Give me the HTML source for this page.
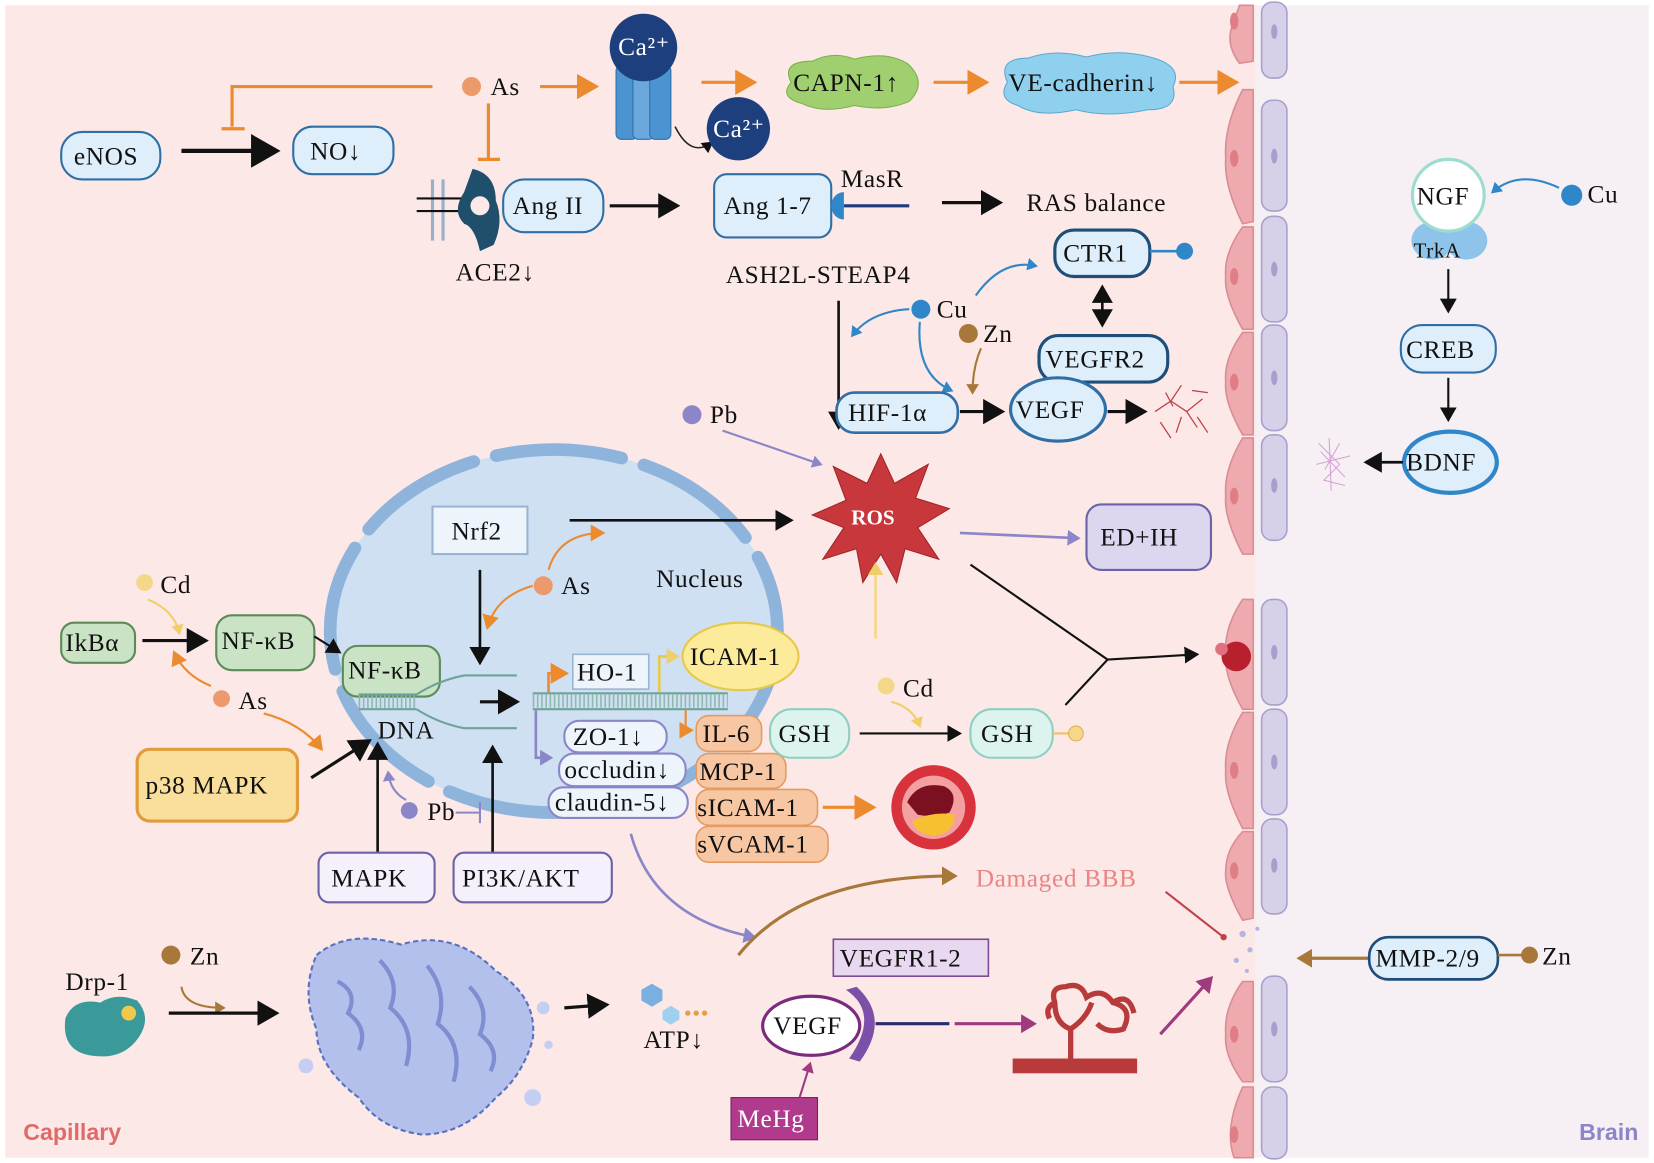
<!DOCTYPE html>
<html><head><meta charset="utf-8"><style>
html,body{margin:0;padding:0;background:#fff;}
svg{display:block;}
text{font-family:"Liberation Serif",serif;font-size:24px;letter-spacing:0.6px;fill:#111;}
</style></head><body>
<svg width="1654" height="1163" viewBox="0 0 1568 1102" preserveAspectRatio="none" xmlns="http://www.w3.org/2000/svg">
<defs>
<marker id="ab" markerWidth="8" markerHeight="8" refX="6" refY="4" orient="auto-start-reverse" markerUnits="strokeWidth"><path d="M0,0 L7,4 L0,8 z" fill="#111"/></marker>
<marker id="ao" markerWidth="8" markerHeight="8" refX="6" refY="4" orient="auto" markerUnits="strokeWidth"><path d="M0,0 L7,4 L0,8 z" fill="#ec8a2e"/></marker>
<marker id="ap" markerWidth="6" markerHeight="6" refX="4" refY="3" orient="auto" markerUnits="strokeWidth"><path d="M0,0 L5,3 L0,6 z" fill="#8a86c8"/></marker>
<marker id="abl" markerWidth="6" markerHeight="6" refX="4" refY="3" orient="auto" markerUnits="strokeWidth"><path d="M0,0 L5,3 L0,6 z" fill="#2f86c9"/></marker>
<marker id="abr" markerWidth="6" markerHeight="6" refX="4" refY="3" orient="auto" markerUnits="strokeWidth"><path d="M0,0 L5,3 L0,6 z" fill="#a8783a"/></marker>
<marker id="ay" markerWidth="6" markerHeight="6" refX="4" refY="3" orient="auto" markerUnits="strokeWidth"><path d="M0,0 L5,3 L0,6 z" fill="#f0cf6a"/></marker>
<marker id="am" markerWidth="6" markerHeight="6" refX="4" refY="3" orient="auto" markerUnits="strokeWidth"><path d="M0,0 L5,3 L0,6 z" fill="#a03a7e"/></marker>
</defs>
<rect x="0" y="0" width="1568" height="1102" fill="#fff"/>
<rect x="5" y="5" width="1188" height="1092" fill="#fce8e6"/>
<rect x="1190" y="5" width="373" height="1092" fill="#f6f0f5"/>

<g stroke="#d98c94" stroke-width="1.5" fill="#eeaaaf">
<path d="M1175,5 L1188,5 L1188,58 L1175,60 Q1160,40 1170,20 Z"/>
<path d="M1178,85 L1188,85 L1188,210 L1178,212 Q1160,175 1162,150 Q1160,120 1178,85 Z"/>
<path d="M1178,215 L1188,215 L1188,312 L1178,312 Q1160,280 1162,262 Q1160,240 1178,215 Z"/>
<path d="M1178,315 L1188,315 L1188,412 L1178,412 Q1160,380 1162,362 Q1160,340 1178,315 Z"/>
<path d="M1178,415 L1188,415 L1188,525 L1178,525 Q1160,490 1162,470 Q1160,445 1178,415 Z"/>
<path d="M1178,568 L1188,568 L1188,672 L1178,672 Q1160,640 1162,620 Q1160,595 1178,568 Z"/>
<path d="M1178,675 L1188,675 L1188,785 L1178,785 Q1160,750 1162,730 Q1160,705 1178,675 Z"/>
<path d="M1178,788 L1188,788 L1188,870 L1178,872 Q1160,840 1162,825 Q1162,805 1178,788 Z"/>
<path d="M1178,930 L1188,930 L1188,1025 L1178,1025 Q1160,1000 1162,980 Q1160,955 1178,930 Z"/>
<path d="M1178,1030 L1188,1030 L1188,1097 L1170,1097 Q1160,1070 1178,1030 Z"/>
</g>
<g fill="#e07e85"><ellipse cx="1170" cy="20" rx="4" ry="8"/><ellipse cx="1170" cy="150" rx="4" ry="8"/><ellipse cx="1170" cy="262" rx="4" ry="8"/><ellipse cx="1170" cy="362" rx="4" ry="8"/><ellipse cx="1170" cy="470" rx="4" ry="8"/><ellipse cx="1170" cy="730" rx="4" ry="8"/><ellipse cx="1170" cy="825" rx="4" ry="8"/><ellipse cx="1170" cy="980" rx="4" ry="8"/><ellipse cx="1170" cy="1075" rx="4" ry="8"/></g>
<g stroke="#a8a0cc" stroke-width="1.5" fill="#d6d0e8">
<rect x="1196" y="2" width="24" height="72" rx="10"/>
<rect x="1196" y="95" width="24" height="105" rx="10"/>
<rect x="1196" y="205" width="24" height="100" rx="10"/>
<rect x="1196" y="308" width="24" height="100" rx="10"/>
<rect x="1196" y="412" width="24" height="100" rx="10"/>
<rect x="1196" y="568" width="24" height="100" rx="10"/>
<rect x="1196" y="672" width="24" height="100" rx="10"/>
<rect x="1196" y="776" width="24" height="90" rx="10"/>
<rect x="1196" y="925" width="24" height="100" rx="10"/>
<rect x="1196" y="1030" width="24" height="68" rx="10"/>
</g>
<g fill="#a8a0cc"><ellipse cx="1208" cy="30" rx="3" ry="7"/><ellipse cx="1208" cy="148" rx="3" ry="7"/><ellipse cx="1208" cy="255" rx="3" ry="7"/><ellipse cx="1208" cy="358" rx="3" ry="7"/><ellipse cx="1208" cy="460" rx="3" ry="7"/><ellipse cx="1208" cy="618" rx="3" ry="7"/><ellipse cx="1208" cy="722" rx="3" ry="7"/><ellipse cx="1208" cy="820" rx="3" ry="7"/><ellipse cx="1208" cy="975" rx="3" ry="7"/></g>
<g fill="#9fa9de" opacity=".8"><circle cx="1178" cy="885" r="3"/><circle cx="1185" cy="900" r="2.5"/><circle cx="1172" cy="910" r="2.5"/><circle cx="1192" cy="880" r="2"/><circle cx="1182" cy="920" r="2"/></g>

<path d="M410,82 L220,82 L220,120" fill="none" stroke="#ec8a2e" stroke-width="3"/>
<line x1="210" y1="122" x2="232" y2="122" stroke="#ec8a2e" stroke-width="3"/>
<circle cx="447" cy="82" r="9" fill="#ec9a6b"/><text x="465" y="90">As</text>
<line x1="463" y1="98" x2="463" y2="150" stroke="#ec8a2e" stroke-width="3"/>
<line x1="453" y1="151" x2="474" y2="151" stroke="#ec8a2e" stroke-width="3"/>
<line x1="512" y1="82" x2="565" y2="82" stroke="#ec8a2e" stroke-width="3" marker-end="url(#ao)"/>
<rect x="584" y="62" width="20" height="70" rx="5" fill="#4b93d1" stroke="#2e6ea8"/>
<rect x="600" y="62" width="20" height="70" rx="5" fill="#6aa7dc" stroke="#2e6ea8"/>
<rect x="616" y="62" width="20" height="70" rx="5" fill="#4b93d1" stroke="#2e6ea8"/>
<circle cx="610" cy="45" r="32" fill="#1e3f7e"/><text x="586" y="52" style="fill:#fff">Ca²⁺</text>
<path d="M640,120 Q655,150 675,135" fill="none" stroke="#222" stroke-width="1.5" marker-end="url(#ab)"/>
<circle cx="700" cy="122" r="30" fill="#1e3f7e"/><text x="676" y="130" style="fill:#fff">Ca²⁺</text>
<line x1="665" y1="78" x2="715" y2="78" stroke="#ec8a2e" stroke-width="3" marker-end="url(#ao)"/>
<path d="M750,78 Q740,58 770,58 Q790,48 810,56 Q840,48 860,60 Q880,78 862,96 Q840,106 810,100 Q780,108 760,98 Q738,92 750,78 Z" fill="#9fcf6e" stroke="#7bb04a"/>
<text x="752" y="86">CAPN-1↑</text>
<line x1="885" y1="78" x2="935" y2="78" stroke="#ec8a2e" stroke-width="3" marker-end="url(#ao)"/>
<path d="M955,78 Q945,55 975,55 Q1000,46 1030,54 Q1060,46 1090,54 Q1122,62 1112,82 Q1118,104 1088,104 Q1050,112 1020,104 Q985,112 965,100 Q945,94 955,78 Z" fill="#8fd0ee" stroke="#5aa8d2"/>
<text x="956" y="86">VE-cadherin↓</text>
<line x1="1118" y1="78" x2="1172" y2="78" stroke="#ec8a2e" stroke-width="3" marker-end="url(#ao)"/>

<rect x="58" y="125" width="94" height="45" rx="20" fill="#deeefa" stroke="#2f6fa6" stroke-width="2"/><text x="70" y="156">eNOS</text>
<line x1="172" y1="143" x2="262" y2="143" stroke="#111" stroke-width="4" marker-end="url(#ab)"/>
<rect x="278" y="120" width="95" height="45" rx="18" fill="#deeefa" stroke="#2f6fa6" stroke-width="2"/><text x="294" y="151">NO↓</text>

<g stroke="#9ab0c8" stroke-width="3"><line x1="410" y1="170" x2="410" y2="228"/><line x1="420" y1="170" x2="420" y2="228"/></g>
<line x1="395" y1="188" x2="440" y2="188" stroke="#111" stroke-width="2"/><line x1="395" y1="200" x2="440" y2="200" stroke="#111" stroke-width="2"/>
<path d="M448,160 Q470,165 470,190 Q478,210 468,232 L455,238 Q450,215 440,212 Q428,200 440,182 Z" fill="#1f4f6a"/>
<circle cx="455" cy="195" r="9" fill="#fce8e6"/>
<text x="432" y="266">ACE2↓</text>
<rect x="477" y="170" width="95" height="50" rx="20" fill="#deeefa" stroke="#2f6fa6" stroke-width="2"/><text x="486" y="203">Ang II</text>
<line x1="578" y1="195" x2="642" y2="195" stroke="#111" stroke-width="3" marker-end="url(#ab)"/>
<rect x="677" y="165" width="111" height="60" rx="12" fill="#deeefa" stroke="#2f6fa6" stroke-width="2"/><text x="686" y="203">Ang 1-7</text>
<path d="M800,182 A12,13 0 0,0 800,208 Z" fill="#2f86c9"/>
<line x1="800" y1="195" x2="862" y2="195" stroke="#1e3a7e" stroke-width="3"/>
<text x="797" y="177">MasR</text>
<line x1="893" y1="192" x2="948" y2="192" stroke="#111" stroke-width="3" marker-end="url(#ab)"/>
<text x="973" y="200">RAS balance</text>

<text x="688" y="268">ASH2L-STEAP4</text>
<line x1="795" y1="285" x2="795" y2="405" stroke="#111" stroke-width="2.5" marker-end="url(#ab)"/>
<circle cx="873" cy="293" r="9" fill="#2f86c9"/><text x="888" y="301">Cu</text>
<path d="M862,293 Q825,295 808,318" fill="none" stroke="#2f86c9" stroke-width="2" marker-end="url(#abl)"/>
<path d="M925,280 Q950,245 982,252" fill="none" stroke="#2f86c9" stroke-width="2" marker-end="url(#abl)"/>
<path d="M872,305 Q868,355 902,370" fill="none" stroke="#2f86c9" stroke-width="2" marker-end="url(#abl)"/>
<circle cx="918" cy="316" r="9" fill="#a8783a"/><text x="932" y="324">Zn</text>
<path d="M930,330 Q922,348 922,372" fill="none" stroke="#a8783a" stroke-width="2" marker-end="url(#abr)"/>
<rect x="1000" y="218" width="90" height="44" rx="18" fill="#deeefa" stroke="#1f4e79" stroke-width="3"/><text x="1008" y="248">CTR1</text>
<line x1="1090" y1="238" x2="1118" y2="238" stroke="#2f86c9" stroke-width="2.5"/><circle cx="1123" cy="238" r="8" fill="#2f86c9"/>
<line x1="1045" y1="272" x2="1045" y2="308" stroke="#111" stroke-width="2.5" marker-end="url(#ab)" marker-start="url(#ab)"/>
<rect x="985" y="318" width="122" height="44" rx="18" fill="#deeefa" stroke="#1f4e79" stroke-width="3"/><text x="991" y="348">VEGFR2</text>
<rect x="793" y="372" width="115" height="38" rx="17" fill="#deeefa" stroke="#2f6fa6" stroke-width="2.5"/><text x="804" y="399">HIF-1α</text>
<line x1="910" y1="390" x2="950" y2="390" stroke="#111" stroke-width="3" marker-end="url(#ab)"/>
<ellipse cx="1003" cy="388" rx="45" ry="30" fill="#deeefa" stroke="#2f6fa6" stroke-width="3"/><text x="963" y="396">VEGF</text>
<line x1="1050" y1="390" x2="1085" y2="390" stroke="#111" stroke-width="3" marker-end="url(#ab)"/>
<g fill="none" stroke="#c0404a" stroke-width="1.2"><path d="M1095,390 L1110,380 L1120,365 M1110,380 L1125,390 L1140,378 M1120,395 L1115,410 M1125,390 L1135,405 M1100,400 L1110,415 M1130,370 L1145,372 M1105,372 L1112,385 M1135,395 L1145,410"/></g>

<circle cx="656" cy="393" r="9" fill="#8a86c8"/><text x="673" y="401">Pb</text>
<line x1="685" y1="408" x2="778" y2="440" stroke="#8a86c8" stroke-width="2" marker-end="url(#ap)"/>
<polygon points="835,430 848,458 880,440 868,472 900,482 870,500 890,530 858,520 850,552 835,525 818,552 812,520 780,530 800,500 770,488 802,474 790,442 822,458" fill="#c8373b" stroke="#a02428"/>
<text x="807" y="497" style="fill:#fff;font-weight:bold;font-size:20px;letter-spacing:0">ROS</text>
<line x1="910" y1="505" x2="1022" y2="510" stroke="#8a86c8" stroke-width="2.5" marker-end="url(#ap)"/>
<rect x="1030" y="478" width="118" height="62" rx="14" fill="#dcd6ef" stroke="#6a63a8" stroke-width="2"/><text x="1043" y="517">ED+IH</text>
<path d="M920,535 L1050,625 L1010,668" fill="none" stroke="#111" stroke-width="2"/>
<line x1="1050" y1="625" x2="1135" y2="620" stroke="#111" stroke-width="2" marker-end="url(#ab)"/>
<circle cx="1172" cy="622" r="14" fill="#b8202e"/><circle cx="1158" cy="615" r="6" fill="#e07080"/>

<ellipse cx="525" cy="598" rx="212" ry="172" fill="#cfe0f2"/>
<ellipse cx="525" cy="598" rx="212" ry="172" fill="none" stroke="#8fb4dc" stroke-width="12" stroke-dasharray="120 22" stroke-linecap="round"/>
<text x="622" y="556">Nucleus</text>
<rect x="410" y="480" width="90" height="45" fill="#eef4fb" stroke="#9ab4d4" stroke-width="2"/><text x="428" y="511">Nrf2</text>
<line x1="540" y1="493" x2="750" y2="493" stroke="#111" stroke-width="2.5" marker-end="url(#ab)"/>
<circle cx="515" cy="555" r="9" fill="#ec9a6b"/><text x="532" y="563">As</text>
<path d="M520,540 Q530,505 572,505" fill="none" stroke="#ec8a2e" stroke-width="2" marker-end="url(#ao)"/>
<path d="M505,555 Q470,565 462,595" fill="none" stroke="#ec8a2e" stroke-width="2" marker-end="url(#ao)"/>
<line x1="455" y1="540" x2="455" y2="628" stroke="#111" stroke-width="2.5" marker-end="url(#ab)"/>

<circle cx="137" cy="552" r="8" fill="#f5d78a"/><text x="152" y="562">Cd</text>
<path d="M140,568 Q165,578 170,600" fill="none" stroke="#f0cf6a" stroke-width="2" marker-end="url(#ay)"/>
<rect x="58" y="590" width="70" height="38" rx="12" fill="#c9e3c4" stroke="#5c8a59" stroke-width="2"/><text x="62" y="617">IkBα</text>
<line x1="135" y1="607" x2="195" y2="607" stroke="#111" stroke-width="3" marker-end="url(#ab)"/>
<rect x="205" y="583" width="93" height="52" rx="15" fill="#c9e3c4" stroke="#5c8a59" stroke-width="2"/><text x="210" y="615">NF-κB</text>
<line x1="298" y1="603" x2="322" y2="618" stroke="#111" stroke-width="2" marker-end="url(#ab)"/>
<rect x="325" y="612" width="92" height="48" rx="14" fill="#c9e3c4" stroke="#5c8a59" stroke-width="2"/><text x="330" y="643">NF-κB</text>
<circle cx="210" cy="662" r="8" fill="#ec9a6b"/><text x="226" y="672">As</text>
<path d="M200,650 Q175,640 165,618" fill="none" stroke="#ec8a2e" stroke-width="2" marker-end="url(#ao)"/>
<path d="M250,676 Q285,685 305,710" fill="none" stroke="#ec8a2e" stroke-width="2" marker-end="url(#ao)"/>
<g stroke="#6fa39a" stroke-width="2" fill="none">
<line x1="340" y1="658" x2="395" y2="658"/><line x1="340" y1="672" x2="395" y2="672"/>
<path d="M395,658 Q415,645 440,640 L490,640"/><path d="M395,672 Q415,685 440,690 L490,690"/>
</g>
<line x1="340" y1="665" x2="395" y2="665" stroke="#8fb8af" stroke-width="12" stroke-dasharray="1.5 2.5"/>
<text x="358" y="700">DNA</text>
<rect x="130" y="710" width="152" height="68" rx="12" fill="#f9df9b" stroke="#e29b3a" stroke-width="3"/><text x="138" y="752">p38 MAPK</text>
<line x1="295" y1="737" x2="350" y2="702" stroke="#111" stroke-width="3" marker-end="url(#ab)"/>
<line x1="358" y1="808" x2="358" y2="705" stroke="#111" stroke-width="2.5" marker-end="url(#ab)"/>
<line x1="467" y1="808" x2="467" y2="708" stroke="#111" stroke-width="2.5" marker-end="url(#ab)"/>
<circle cx="388" cy="768" r="8" fill="#8a86c8"/><text x="405" y="777">Pb</text>
<path d="M385,758 Q370,750 368,732" fill="none" stroke="#8a86c8" stroke-width="2" marker-end="url(#ap)"/>
<line x1="432" y1="770" x2="455" y2="770" stroke="#8a86c8" stroke-width="2"/><line x1="455" y1="760" x2="455" y2="780" stroke="#8a86c8" stroke-width="2"/>
<rect x="302" y="808" width="110" height="47" rx="10" fill="#f5f0fb" stroke="#6a63a8" stroke-width="2"/><text x="314" y="840">MAPK</text>
<rect x="430" y="808" width="150" height="47" rx="10" fill="#f5f0fb" stroke="#6a63a8" stroke-width="2"/><text x="438" y="840">PI3K/AKT</text>

<line x1="455" y1="665" x2="490" y2="665" stroke="#111" stroke-width="3" marker-end="url(#ab)"/>
<g stroke="#6fa39a" stroke-width="2"><line x1="505" y1="657" x2="690" y2="657"/><line x1="505" y1="672" x2="690" y2="672"/></g>
<line x1="505" y1="664" x2="690" y2="664" stroke="#8fb8af" stroke-width="13" stroke-dasharray="1.5 2.5"/>
<path d="M520,656 L520,638 L537,638" fill="none" stroke="#ec8a2e" stroke-width="2.5" marker-end="url(#ao)"/>
<rect x="543" y="620" width="72" height="33" fill="#eef4fb" stroke="#9ab4d4" stroke-width="1.5"/><text x="547" y="645">HO-1</text>
<path d="M625,656 L625,622 L642,622" fill="none" stroke="#e6c84a" stroke-width="2.5" marker-end="url(#ay)"/>
<ellipse cx="702" cy="622" rx="55" ry="32" fill="#fbeb9b" stroke="#e6c84a" stroke-width="2"/><text x="654" y="630">ICAM-1</text>
<path d="M508,673 L508,718 L522,718" fill="none" stroke="#8a86c8" stroke-width="2.5" marker-end="url(#ap)"/>
<path d="M650,673 L650,692 L656,692" fill="none" stroke="#ec8a2e" stroke-width="2" marker-end="url(#ao)"/>
<g fill="#eef4fb" stroke="#8a86c8" stroke-width="2">
<rect x="535" y="683" width="97" height="30" rx="14"/>
<rect x="530" y="714" width="120" height="31" rx="14"/>
<rect x="520" y="746" width="132" height="29" rx="14"/>
</g>
<text x="543" y="706">ZO-1↓</text><text x="535" y="737">occludin↓</text><text x="526" y="768">claudin-5↓</text>
<g fill="#f6c7a2" stroke="#e59a63" stroke-width="1.5">
<rect x="660" y="678" width="62" height="34" rx="12"/>
<rect x="660" y="714" width="85" height="33" rx="12"/>
<rect x="660" y="748" width="115" height="34" rx="12"/>
<rect x="660" y="783" width="125" height="34" rx="12"/>
</g>
<text x="666" y="703">IL-6</text><text x="663" y="739">MCP-1</text><text x="661" y="773">sICAM-1</text><text x="661" y="808">sVCAM-1</text>
<rect x="730" y="672" width="75" height="46" rx="20" fill="#dcf3ee" stroke="#8fcfc2" stroke-width="2"/><text x="738" y="703">GSH</text>
<line x1="815" y1="695" x2="910" y2="695" stroke="#111" stroke-width="2" marker-end="url(#ab)"/>
<rect x="920" y="672" width="78" height="46" rx="20" fill="#dcf3ee" stroke="#8fcfc2" stroke-width="2"/><text x="930" y="703">GSH</text>
<line x1="998" y1="695" x2="1014" y2="695" stroke="#f0c060" stroke-width="2"/><circle cx="1020" cy="695" r="7" fill="#f5d78a" stroke="#e0b050"/>
<circle cx="840" cy="650" r="8" fill="#f5d78a"/><text x="856" y="660">Cd</text>
<path d="M845,665 Q865,670 872,688" fill="none" stroke="#f0cf6a" stroke-width="2" marker-end="url(#ay)"/>
<line x1="830" y1="605" x2="830" y2="535" stroke="#f5d78a" stroke-width="2.5" marker-end="url(#ay)"/>
<line x1="780" y1="765" x2="828" y2="765" stroke="#ec8a2e" stroke-width="3" marker-end="url(#ao)"/>
<circle cx="885" cy="765" r="40" fill="#d8323c"/><circle cx="885" cy="765" r="30" fill="#f5a0a0"/>
<path d="M860,760 Q870,740 895,745 Q910,752 900,770 Q885,775 870,772 Z" fill="#7a1020"/>
<path d="M865,778 Q885,768 905,772 Q905,790 885,792 Q868,790 865,778 Z" fill="#f7c030"/>

<path d="M598,790 Q620,870 715,888" fill="none" stroke="#8a86c8" stroke-width="2.5" marker-end="url(#ap)"/>
<text x="925" y="840" style="fill:#e98585">Damaged BBB</text>
<path d="M700,905 Q760,830 905,830" fill="none" stroke="#a8783a" stroke-width="3" marker-end="url(#abr)"/>
<line x1="1105" y1="845" x2="1160" y2="888" stroke="#c0404a" stroke-width="2"/><circle cx="1160" cy="888" r="3" fill="#c0404a"/>
<line x1="1298" y1="908" x2="1232" y2="908" stroke="#a8783a" stroke-width="3" marker-end="url(#abr)"/>
<rect x="1298" y="888" width="122" height="40" rx="18" fill="#deeefa" stroke="#1f4e79" stroke-width="2.5"/><text x="1304" y="916">MMP-2/9</text>
<line x1="1420" y1="905" x2="1445" y2="905" stroke="#a8783a" stroke-width="2.5"/><circle cx="1450" cy="905" r="8" fill="#a8783a"/><text x="1462" y="914">Zn</text>

<rect x="790" y="890" width="147" height="35" fill="#e8d8f0" stroke="#7a4a90" stroke-width="1.5"/><text x="796" y="916">VEGFR1-2</text>
<ellipse cx="769" cy="972" rx="46" ry="28" fill="#fff" stroke="#7b2a7e" stroke-width="3"/><text x="733" y="980">VEGF</text>
<path d="M802,938 Q835,960 805,1003 L815,1006 Q845,965 812,935 Z" fill="#7b50a8"/>
<line x1="830" y1="970" x2="900" y2="970" stroke="#2a2a6a" stroke-width="3"/>
<line x1="905" y1="970" x2="980" y2="970" stroke="#a03a7e" stroke-width="3" marker-end="url(#am)"/>
<rect x="960" y="1003" width="118" height="14" fill="#b83a3a"/>
<g fill="none" stroke="#b83a3a" stroke-width="5"><path d="M1015,1003 L1015,975 Q1000,970 1000,950 Q995,935 1010,935 Q1025,930 1030,945 Q1045,935 1055,950 Q1075,955 1065,975 Q1050,980 1040,970 M1015,975 Q1030,965 1035,950 M1000,950 Q990,955 995,965 M1055,950 Q1070,940 1075,960"/></g>
<line x1="1100" y1="980" x2="1148" y2="927" stroke="#a03a7e" stroke-width="3" marker-end="url(#am)"/>
<rect x="693" y="1040" width="82" height="40" fill="#b03a8c" stroke="#7a1d5e"/><text x="699" y="1068" style="fill:#fff">MeHg</text>
<line x1="758" y1="1040" x2="768" y2="1008" stroke="#a03a7e" stroke-width="2" marker-end="url(#am)"/>
<polygon points="608,938 618,932 628,938 628,948 618,954 608,948" fill="#7ab0e0"/>
<polygon points="628,958 636,953 644,958 644,966 636,971 628,966" fill="#a0d0f0"/>
<circle cx="652" cy="960" r="2.5" fill="#e89b40"/><circle cx="660" cy="960" r="2.5" fill="#e89b40"/><circle cx="668" cy="960" r="2.5" fill="#e89b40"/>
<text x="610" y="993">ATP↓</text>
<line x1="535" y1="955" x2="575" y2="952" stroke="#111" stroke-width="3" marker-end="url(#ab)"/>

<text x="62" y="938">Drp-1</text>
<path d="M62,965 Q70,945 95,950 Q110,940 130,948 Q145,965 130,985 Q115,1005 85,1000 Q58,995 62,965 Z" fill="#3a9a9a"/>
<circle cx="122" cy="960" r="7" fill="#f2c84a"/>
<circle cx="162" cy="905" r="9" fill="#a8783a"/><text x="180" y="914">Zn</text>
<path d="M172,935 Q175,955 212,955" fill="none" stroke="#a8783a" stroke-width="2" marker-end="url(#abr)"/>
<line x1="160" y1="960" x2="262" y2="960" stroke="#111" stroke-width="3" marker-end="url(#ab)"/>
<path d="M300,905 Q330,880 380,895 Q430,880 470,920 Q510,945 505,985 Q495,1020 470,1040 Q440,1075 400,1075 Q360,1070 340,1040 Q300,1010 300,975 Q285,940 300,905 Z" fill="#b4c0ec" stroke="#5a70c0" stroke-width="2" stroke-dasharray="5 3"/>
<g fill="none" stroke="#7e8ed0" stroke-width="4"><path d="M320,930 Q340,940 330,960 Q350,975 340,995 M360,910 Q380,930 370,955 Q395,975 385,1010 M405,915 Q425,940 415,970 Q440,990 430,1025 M445,935 Q465,955 455,980 Q475,995 465,1015"/></g>
<g fill="#c4cdf2"><circle cx="515" cy="955" r="6"/><circle cx="505" cy="1040" r="8"/><circle cx="290" cy="1010" r="7"/><circle cx="520" cy="990" r="4"/></g>

<ellipse cx="1358" cy="228" rx="20" ry="18" fill="#8ec4ea"/><ellipse cx="1390" cy="228" rx="20" ry="18" fill="#8ec4ea"/>
<circle cx="1373" cy="185" r="34" fill="#fff" stroke="#9fdcd0" stroke-width="3"/><text x="1343" y="194">NGF</text>
<text x="1340" y="244" style="font-size:20px">TrkA</text>
<circle cx="1490" cy="185" r="10" fill="#2f86c9"/><text x="1505" y="192">Cu</text>
<path d="M1478,178 Q1440,160 1415,182" fill="none" stroke="#2f86c9" stroke-width="2" marker-end="url(#abl)"/>
<line x1="1373" y1="255" x2="1373" y2="295" stroke="#111" stroke-width="2" marker-end="url(#ab)"/>
<rect x="1328" y="308" width="90" height="45" rx="20" fill="#deeefa" stroke="#2f6fa6" stroke-width="2"/><text x="1333" y="339">CREB</text>
<line x1="1373" y1="358" x2="1373" y2="398" stroke="#111" stroke-width="2" marker-end="url(#ab)"/>
<ellipse cx="1375" cy="438" rx="44" ry="29" fill="#deeefa" stroke="#2f86c9" stroke-width="4"/><text x="1333" y="446">BDNF</text>
<line x1="1330" y1="438" x2="1295" y2="438" stroke="#111" stroke-width="2.5" marker-end="url(#ab)"/>
<g fill="none" stroke="#d8a0d8" stroke-width="1"><path d="M1250,420 L1270,440 L1255,455 L1275,460 M1260,415 L1262,465 M1248,440 L1280,432 M1252,428 L1275,452 M1256,445 L1270,420"/></g>

<text x="22" y="1080" style="fill:#e06a6a;font-family:'Liberation Sans',sans-serif;font-weight:bold;font-size:22px;letter-spacing:0">Capillary</text>
<text x="1497" y="1080" style="fill:#8b86c9;font-family:'Liberation Sans',sans-serif;font-weight:bold;font-size:22px;letter-spacing:0">Brain</text>
</svg>
</body></html>
